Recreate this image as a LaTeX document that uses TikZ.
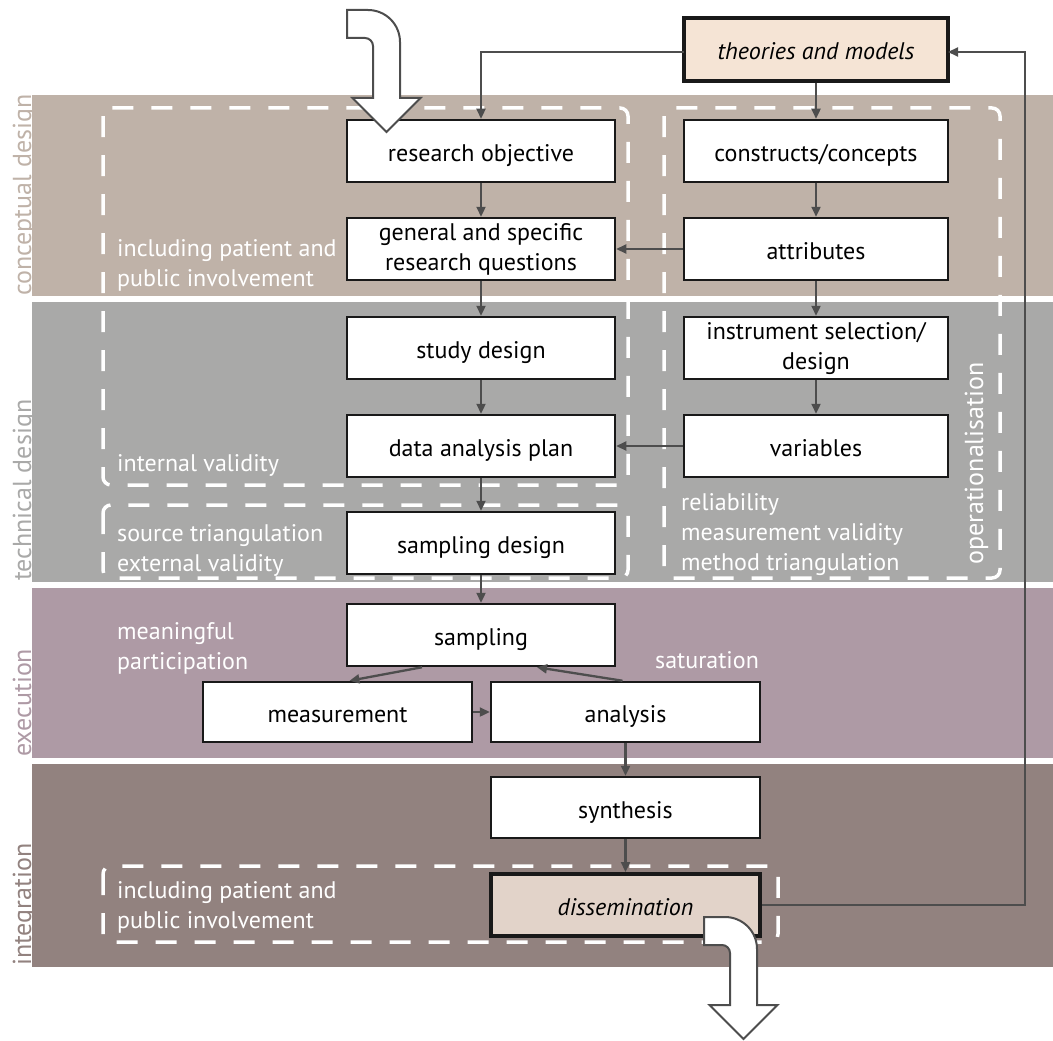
\documentclass[tikz,border=0pt]{standalone}
\usepackage{fontspec}
\setmainfont{PT Sans}
\usetikzlibrary{arrows.meta}
\definecolor{bandA}{HTML}{BFB2A8}
\definecolor{bandB}{HTML}{A9A9A8}
\definecolor{bandC}{HTML}{AE9AA5}
\definecolor{bandD}{HTML}{92827F}
\definecolor{conncol}{HTML}{4D4D4D}
\definecolor{peach}{HTML}{F5E4D5}
\definecolor{dissfill}{HTML}{E2D3C9}
\newcommand\twolines[2]{\begin{tabular}{@{}c@{}}#1\\#2\end{tabular}}
\begin{document}
\begin{tikzpicture}[x=1pt,y=-1pt,
  box/.style={draw=black!90, line width=2.5pt, fill=white, minimum width=266pt,
    minimum height=61pt, inner sep=0pt, font=\fontsize{24}{30}\selectfont,
    text height=21pt, text depth=0pt},
  boxtwo/.style={box, text height=38pt, text depth=24pt},
  keybox/.style={box, line width=4pt},
  conn/.style={draw=conncol, line width=2.3pt, -{Triangle[length=10pt,width=9pt]}},
  dashbox/.style={draw=white, line width=3.5pt, dash pattern=on 21pt off 18pt, rounded corners=8pt},
  note/.style={text=white, inner sep=0pt, align=left, font=\fontsize{24}{30}\selectfont},
  bandlabel/.style={inner sep=0pt, rotate=90, anchor=base west, font=\fontsize{26}{30}\selectfont},
  bigarrow/.style={draw=conncol, line width=2pt, fill=white, line join=miter}
]
\useasboundingbox (0,0) rectangle (1053,1041);
% bands
\fill[bandA] (32,95) rectangle (1053,296);
\fill[bandB] (32,302) rectangle (1053,582);
\fill[bandC] (32,588) rectangle (1053,758);
\fill[bandD] (32,764) rectangle (1053,967);
\node[bandlabel, text=bandA] (lA) at (31,296) {conceptual design};
\node[bandlabel, text=bandB] (lB) at (31,581) {technical design};
\node[bandlabel, text=bandC] (lC) at (31,757) {execution};
\node[bandlabel, text=bandD] (lD) at (31,966) {integration};
% dashed groups
\draw[dashbox] (103,108) rectangle (628,485);
\draw[dashbox] (103,505) rectangle (628,578);
\draw[dashbox] (664,108) rectangle (1000,578);
\draw[dashbox] (103,866) rectangle (778,942);
% notes
\node[note, anchor=west] (n1) at (117,265.5) {including patient and\\public involvement};
\node[note, anchor=west] (n2) at (117,465) {internal validity};
\node[note, anchor=west] (n3) at (117,550) {source triangulation\\external validity};
\node[note, anchor=west] (n4) at (681,535) {reliability\\measurement validity\\method triangulation};
\node[note, anchor=base west, rotate=90, font=\fontsize{26}{30}\selectfont] (n5) at (983,565) {operationalisation};
\node[note, anchor=west] (n6) at (117,648) {meaningful\\participation};
\node[note, anchor=west] (n7) at (655,660) {saturation};
\node[note, anchor=west] (n8) at (117,907) {including patient and\\public involvement};
% boxes
\node[keybox, fill=peach, minimum width=264pt, minimum height=63pt] (theo) at (816,49.5) {\itshape theories and models};
\node[box, minimum width=268pt, minimum height=62pt] (ro) at (481,151) {research objective};
\node[box, minimum width=264pt, minimum height=62pt] (cc) at (816,151) {constructs/concepts};
\node[boxtwo, minimum width=268pt, minimum height=62pt] (gq) at (481,249) {\twolines{general and specific}{research questions}};
\node[box, minimum width=264pt, minimum height=62pt] (at) at (816,249) {attributes};
\node[box, minimum width=268pt, minimum height=62pt] (sd) at (481,348) {study design};
\node[boxtwo, minimum width=264pt, minimum height=62pt] (is) at (816,348) {\twolines{instrument selection/}{design}};
\node[box, minimum width=268pt, minimum height=62pt] (dap) at (481,446) {data analysis plan};
\node[box, minimum width=264pt, minimum height=62pt] (var) at (816,446) {variables};
\node[box, minimum width=268pt, minimum height=62pt] (smd) at (481,543) {sampling design};
\node[box, minimum width=268pt, minimum height=62pt] (smp) at (481,635) {sampling};
\node[box, minimum width=269pt, minimum height=60pt] (meas) at (337.5,712) {measurement};
\node[box, minimum width=269pt, minimum height=60pt] (ana) at (625.5,712) {analysis};
\node[box, minimum width=269pt, minimum height=61pt] (syn) at (625.5,807.5) {synthesis};
\node[keybox, fill=dissfill, minimum width=269pt, minimum height=62pt] (dis) at (625.5,905) {\itshape dissemination};
% connectors
\coordinate (fb) at (1025,0);
\coordinate (tl) at (684,52);
\coordinate (tr) at (948,52);
\draw[conn] (tl) -- (tl -| ro.north) -- (ro.north);
\draw[conn] (theo) -- (cc);
\draw[conn] (ro) -- (gq);
\draw[conn] (cc) -- (at);
\draw[conn] (at) -- (gq);
\draw[conn] (gq) -- (sd);
\draw[conn] (at) -- (is);
\draw[conn] (sd) -- (dap);
\draw[conn] (is) -- (var);
\draw[conn] (var) -- (dap);
\draw[conn] (dap) -- (smd);
\draw[conn] (smd) -- (smp);
\draw[conn] ([xshift=-59pt]smp.south) -- ([xshift=12pt]meas.north);
\draw[conn] ([xshift=-3pt]ana.north) -- ([xshift=56pt]smp.south);
\draw[conn] (meas) -- (ana);
\draw[conn] (ana) -- (syn);
\draw[conn] (syn) -- (dis);
\draw[conn] (dis.east) -- (dis.east -| fb) -- (tr -| fb) -- (tr);
% big hollow arrows
\draw[bigarrow] (347,10) -- (368,10) .. controls (385.7,10) and (400,24.3) .. (400,42) -- (400,98) -- (420.5,98) -- (386.5,132) -- (352.5,98) -- (373,98) -- (373,46) .. controls (373,41.6) and (369.4,38) .. (365,38) -- (347,38) -- cycle;
\begin{scope}[shift={(357,907)}]
\draw[bigarrow] (347,10) -- (368,10) .. controls (385.7,10) and (400,24.3) .. (400,42) -- (400,98) -- (420.5,98) -- (386.5,132) -- (352.5,98) -- (373,98) -- (373,46) .. controls (373,41.6) and (369.4,38) .. (365,38) -- (347,38) -- cycle;
\end{scope}
\end{tikzpicture}
\end{document}
